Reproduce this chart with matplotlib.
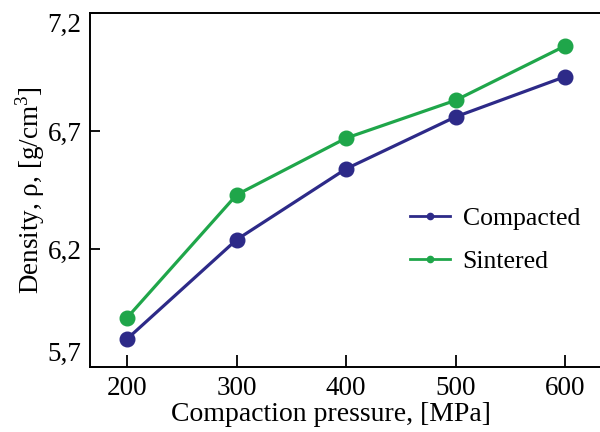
import numpy as np
import matplotlib
matplotlib.use("Agg")
import matplotlib.pyplot as plt

pressure = [200, 300, 400, 500, 600]
compacted = [5.82, 6.24, 6.54, 6.76, 6.93]
sintered = [5.91, 6.43, 6.67, 6.83, 7.06]
yticks = [5.7, 6.2, 6.7, 7.2]
ylabels = ["5,7", "6,2", "6,7", "7,2"]

plt.rcParams['font.family'] = ['Liberation Serif', 'DejaVu Serif']
plt.rcParams['mathtext.fontset'] = 'custom'
plt.rcParams['mathtext.rm'] = 'Liberation Serif'

navy = '#2d2a88'
green = '#1fa64a'

fig = plt.figure(figsize=(6, 4.32), dpi=100)
# right spine sits just past the image edge, as in the original
ax = fig.add_axes([0.15, 0.15, 0.87, 0.82])

ax.plot(pressure, compacted, '-o', color=navy, lw=2.3, ms=10.5, label='Compacted')
ax.plot(pressure, sintered, '-o', color=green, lw=2.3, ms=10.5, label='Sintered')

ax.set_xlim(166, 643)
ax.set_ylim(5.7, 7.2)
ax.set_xticks(pressure)
ax.set_yticks(yticks)
ax.set_yticklabels(ylabels)
ax.tick_params(direction='in', length=8.5, width=1.3, labelsize=19.5, pad=6)
ax.tick_params(axis='y', length=7)
for s in ax.spines.values():
    s.set_linewidth(1.4)
tl = ax.get_yticklabels()
tl[0].set_va('bottom')
tl[-1].set_va('top')

ax.set_xlabel('Compaction pressure, [MPa]', fontsize=20, labelpad=1)
ax.xaxis.label.set_x(0.462)
ax.set_ylabel('Density, ρ, [g/cm$^\\mathrm{3}$]', fontsize=19.5, labelpad=0.5)

leg = ax.legend(loc='center left', bbox_to_anchor=(0.613, 0.358), frameon=False,
                fontsize=18.5, handlelength=1.55, handletextpad=0.5,
                labelspacing=0.78, borderpad=0, borderaxespad=0)
for h in leg.legend_handles:
    h.set_markersize(4.5)
    h.set_linewidth(2)

fig.savefig('out.png', dpi=100)
